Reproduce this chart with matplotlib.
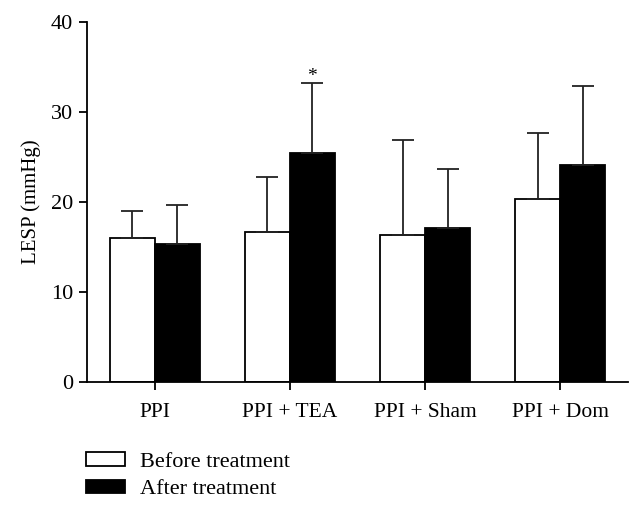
import matplotlib
matplotlib.use("Agg")
import matplotlib.pyplot as plt
import numpy as np
from matplotlib.patches import Patch

plt.rcParams['font.family'] = ['Liberation Serif', 'DejaVu Serif']

categories = ["PPI", "PPI + TEA", "PPI + Sham", "PPI + Dom"]
before_mean = [16.0, 16.7, 16.3, 20.3]
before_err = [3.0, 6.1, 10.6, 7.4]
after_mean = [15.3, 25.4, 17.1, 24.1]
after_err = [4.4, 7.8, 6.6, 8.8]
yticks = [0, 10, 20, 30, 40]

fig = plt.figure(figsize=(6.42, 5.05), dpi=100)
ax = fig.add_axes([0.1355, 0.2436, 0.8425, 0.7128])

x = np.arange(len(categories))
w = 0.333
lw = 1.3
ax.bar(x - w/2, before_mean, w, color='white', edgecolor='black', linewidth=lw,
       yerr=[np.zeros(4), before_err], capsize=7.8,
       error_kw=dict(elinewidth=lw, capthick=lw, ecolor='#222222'), zorder=2)
ax.bar(x + w/2, after_mean, w, color='black', edgecolor='black', linewidth=lw,
       yerr=[np.zeros(4), after_err], capsize=7.8,
       error_kw=dict(elinewidth=lw, capthick=lw, ecolor='#222222'), zorder=2)

ax.text(x[1] + w/2, after_mean[1] + after_err[1] + 0.8, "*", ha='center', va='center', fontsize=14)

ax.set_xlim(-0.5, 3.5)
ax.set_ylim(0, 40)
ax.set_yticks(yticks)
ax.set_xticks(x)
ax.set_xticklabels(categories, fontsize=15.5)
ax.tick_params(axis='y', labelsize=16, length=6, width=lw, pad=4)
ax.tick_params(axis='x', length=6, width=lw, pad=9)
for s in ['top', 'right']:
    ax.spines[s].set_visible(False)
for s in ['left', 'bottom']:
    ax.spines[s].set_linewidth(lw)
ax.set_ylabel("LESP (mmHg)", fontsize=15, labelpad=7)

handles = [Patch(facecolor='white', edgecolor='black', linewidth=lw, label='Before treatment'),
           Patch(facecolor='black', edgecolor='black', linewidth=lw, label='After treatment')]
fig.legend(handles=handles, loc='upper left', bbox_to_anchor=(0.134, 0.104), frameon=False,
           fontsize=16, handlelength=1.76, handleheight=0.54, handletextpad=0.68,
           labelspacing=0.36, borderaxespad=0, borderpad=0)

fig.savefig("out.png", dpi=100)
